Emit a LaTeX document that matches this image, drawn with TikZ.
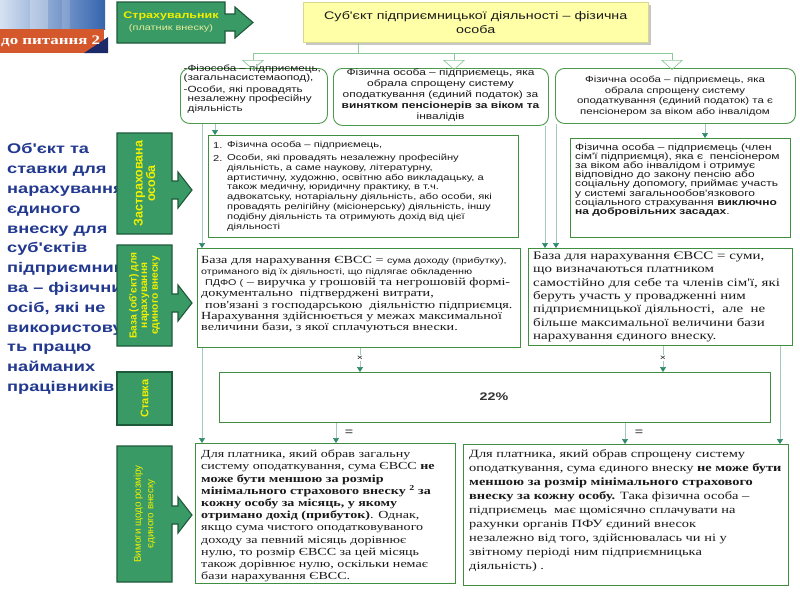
\documentclass[tikz,border=0pt]{standalone}
\usepackage{fontspec}
\setmainfont{Liberation Sans}
\newfontfamily\sw[FakeStretch=1.3]{Liberation Sans}
\newfontfamily\tw[FakeStretch=1.3]{Liberation Serif}
\usetikzlibrary{arrows.meta}
\definecolor{lblg}{HTML}{3A9A66}
\definecolor{lbld}{HTML}{1E5A3A}
\definecolor{boxg}{HTML}{3F8F3F}
\definecolor{rboxg}{HTML}{4C9A4C}
\definecolor{connc}{HTML}{A6C8B8}
\definecolor{tipc}{HTML}{2E8B6A}
\definecolor{holc}{HTML}{8CC99A}
\definecolor{ylw}{HTML}{F0F000}
\definecolor{ylwpale}{HTML}{E6EE9A}
\definecolor{yelbox}{HTML}{FFFFA8}
\definecolor{yelbord}{HTML}{D8D890}
\definecolor{txtblue}{HTML}{22398F}
\definecolor{txtc}{HTML}{1A1A1A}
\definecolor{bannerred}{HTML}{D4582C}
\definecolor{navy}{HTML}{1C2A6A}
\definecolor{bnl}{HTML}{D6E2F2}
\definecolor{bnr}{HTML}{3464AE}
\newcommand\fsz[2]{\fontsize{#1}{#2}\selectfont}
\begin{document}
\begin{tikzpicture}[x=1pt,y=-1pt,
  lblbox/.style={fill=lblg,draw=lbld,line width=1.1pt},
  cbox/.style={draw=boxg,line width=0.9pt,fill=white,inner sep=0pt,anchor=north west},
  rbox/.style={cbox,draw=rboxg,rounded corners=9pt},
  conn/.style={draw=connc,line width=0.6pt},
  conntip/.style={conn,-{Triangle[width=6pt,length=5pt,color=tipc]}},
  hollowarr/.style={draw=holc,line width=0.7pt,-{Triangle[open,width=22pt,length=10pt]}},
  btxt/.style={inner sep=0pt,text=txtc,align=left,anchor=west},
  ctxt/.style={inner sep=0pt,text=txtc,align=center},
  labtxt/.style={inner sep=0pt,rotate=90,text=ylw,align=center},
  signlbl/.style={inner sep=0.8pt,fill=white,text=txtc}
]
\useasboundingbox (0,0) rectangle (800,600);
\fill[white] (0,0) rectangle (800,600);

% ---------- banner ----------
\shade[left color=bnl,right color=bnr] (0,0) rectangle (105,29);
\fill[white,opacity=0.25] (30,0) rectangle (48,29);
\fill[white,opacity=0.15] (62,0) rectangle (70,29);
\fill[bannerred] (0,29) rectangle (104,53);
\fill[navy] (84,53) -- (108,53) -- (108,37) -- cycle;
\node[inner sep=0pt,anchor=west,text=white,font=\tw\bfseries\fsz{13}{13}] (ban) at (1,41.5) {до питання 2};

% ---------- left text ----------
\begin{scope}
\clip (0,130) rectangle (116.5,400);
\node[inner sep=0pt,anchor=west,align=left,text=txtblue,font=\sw\bfseries\fsz{14}{19.8}] (objtext) at (7,269)
{Об'єкт та\\ставки для\\нарахування\\єдиного\\внеску для\\суб'єктів\\підприємницт\\ва – фізичних\\осіб, які не\\використову\\ть працю\\найманих\\працівників};
\end{scope}

% ---------- header ----------
\draw[lblbox] (117,2) -- (225,2) -- (225,14) -- (235,14) -- (235,7) -- (253,22.5) -- (235,38) -- (235,31) -- (225,31) -- (225,43) -- (117,43) -- cycle;
\node[inner sep=0pt,align=center] (strakh) at (171,22.5)
{{\sw\bfseries\fsz{9.6}{11}\color{ylw}Страхувальник}\\{\sw\fsz{8.4}{10}\color{ylwpale}(платник внеску)}};

\fill[gray!45] (306,5) rectangle (651,45);
\node[cbox,fill=yelbox,draw=yelbord,line width=0.5pt,minimum width=345pt,minimum height=40pt] (subj) at (303,2) {};
\node[ctxt,font=\sw\fsz{11}{14}] (subjt) at (subj.center) {Суб'єкт підприємницької діяльності – фізична\\особа};

% ---------- category boxes ----------
\node[rbox,minimum width=147pt,minimum height=55pt] (f1) at (180,68) {};
\node[rbox,minimum width=215pt,minimum height=57pt] (f2) at (333,68) {};
\node[rbox,minimum width=240pt,minimum height=55pt] (f3) at (555,68) {};
\node[btxt,font=\sw\fsz{9}{8}] (f1t) at (183.5,89)
{-Фізособа – підприємець,\\(загальнасистемаопод),\\[2pt]-Особи, які провадять\\\hspace*{4pt}незалежну професійну\\\hspace*{4pt}діяльність};
\node[ctxt,font=\sw\fsz{9.2}{11}] (f2t) at (440.5,95)
{Фізична особа – підприємець, яка\\обрала спрощену систему\\оподаткування (єдиний податок) за\\{\bfseries винятком пенсіонерів за віком та}\\інвалідів};
\node[ctxt,font=\sw\fsz{8.8}{10.5}] (f3t) at (675,96)
{Фізична особа – підприємець, яка\\обрала спрощену систему\\оподаткування (єдиний податок) та є\\пенсіонером за віком або інвалідом};

\coordinate (hl) at (253,53);
\coordinate (hr) at (672,53);
\coordinate (hj) at (358,53);
\draw[conn,draw=holc] (hl) -- (hr);
\draw[conn,draw=holc] (358,0 |- subj.south) -- (hj);
\draw[hollowarr] (hl) -- ([yshift=-2pt]253,0 |- f1.north);
\draw[hollowarr] (454,53) -- ([yshift=-2pt]454,0 |- f2.north);
\draw[hollowarr] (hr) -- ([yshift=-2pt]672,0 |- f3.north);

% ---------- label arrows ----------
\draw[lblbox] (117,133) -- (172,133) -- (172,181) -- (178,181) -- (178,172) -- (192,190) -- (178,208) -- (178,199) -- (172,199) -- (172,234) -- (117,234) -- cycle;
\node[labtxt,font=\bfseries\fsz{12.5}{12.5}] (lz) at (144.5,183.5) {Застрахована\\особа};
\draw[lblbox] (117,245) -- (172,245) -- (172,294) -- (178,294) -- (178,285) -- (192,303) -- (178,321) -- (178,312) -- (172,312) -- (172,346) -- (117,346) -- cycle;
\node[labtxt,font=\bfseries\fsz{10.2}{10.6}] (lb) at (144.5,295.5) {База (об'єкт) для\\нарахування\\єдиного внеску};
\draw[lblbox] (117,372) rectangle (172,425);
\node[labtxt,font=\bfseries\fsz{11}{11}] (ls) at (144.5,398.5) {Ставка};
\draw[lblbox] (117,446) -- (172,446) -- (172,506) -- (178,506) -- (178,497) -- (192,515) -- (178,533) -- (178,524) -- (172,524) -- (172,582) -- (117,582) -- cycle;
\node[labtxt,font=\fsz{9.8}{12.5}] (lv) at (144.5,514) {Вимоги щодо розміру\\єдиного внеску};

% ---------- insured ----------
\node[cbox,minimum width=310pt,minimum height=102pt] (ins1) at (208,135) {};
\node[cbox,minimum width=220pt,minimum height=99pt] (ins2) at (570,138) {};
\node[btxt,font=\sw\fsz{8.6}{9.8}] (n1) at (213,145.5) {1.};
\node[btxt,font=\sw\fsz{8.6}{9.8}] (i1a) at (227,145.5) {Фізична особа – підприємець,};
\node[btxt,font=\sw\fsz{8.6}{9.8}] (n2) at (213,158) {2.};
\node[btxt,font=\sw\fsz{8.6}{9.8}] (i1b) at (227,192.5)
{Особи, які провадять незалежну професійну\\діяльність, а саме наукову, літературну,\\артистичну, художню, освітню або викладацьку, а\\також медичну, юридичну практику, в т.ч.\\адвокатську, нотаріальну діяльність, або особи, які\\провадять релігійну (місіонерську) діяльність, іншу\\подібну діяльність та отримують дохід від цієї\\діяльності};
\node[btxt,font=\sw\fsz{9.2}{9.15}] (i2t) at (575,180)
{Фізична особа – підприємець (член\\сім'ї підприємця), яка є\ \ пенсіонером\\за віком або інвалідом і отримує\\відповідно до закону пенсію або\\соціальну допомогу, приймає участь\\у системі загальнообов'язкового\\соціального страхування \textbf{виключно}\\\textbf{на добровільних засадах}.};

% ---------- base ----------
\node[cbox,minimum width=323pt,minimum height=99pt] (base1) at (197,248) {};
\node[cbox,minimum width=264pt,minimum height=97pt] (base2) at (528,248) {};
\node[btxt,font=\tw\fsz{10.9}{11.2}] (b1t) at (201,294.5)
{База для нарахування ЄВСС = {\sw\fsz{8.3}{11.2}сума доходу (прибутку),}\\
{\sw\fsz{8.3}{11.2}отриманого від їх діяльності, що підлягає обкладенню}\\
\hspace*{4pt}{\sw\fsz{8.3}{11.2}ПДФО (} – виручка у грошовій та негрошовій формі-\\
документально\ \ підтверджені витрати,\\
\hspace*{4pt}пов'язані з господарською\ \ діяльністю підприємця.\\
Нарахування здійснюється у межах максимальної\\
величини бази, з якої сплачуються внески.};
\node[btxt,font=\tw\fsz{11.5}{13.3}] (b2t) at (533,297)
{База для нарахування ЄВСС = суми,\\що визначаються платником\\самостійно для себе та членів сім'ї, які\\беруть участь у провадженні ним\\підприємницької діяльності,\ \ але\ \ не\\більше максимальної величини бази\\нарахування єдиного внеску.};

% ---------- rate ----------
\node[cbox,minimum width=551pt,minimum height=50pt] (rate) at (219,372) {};
\node[ctxt,font=\sw\bfseries\fsz{11}{11},text=black!80] (ratet) at (494,397) {22\%};

% ---------- requirements ----------
\node[cbox,minimum width=260pt,minimum height=140pt] (req1) at (195,443) {};
\node[cbox,minimum width=325pt,minimum height=141pt] (req2) at (463,444) {};
\node[btxt,font=\tw\fsz{10.8}{12.2}] (r1t) at (201,516)
{Для платника, який обрав загальну\\
систему оподаткування, сума ЄВСС \textbf{не}\\
\textbf{може бути меншою за розмір}\\
\textbf{мінімального страхового внеску \textsuperscript{2} за}\\
\textbf{кожну особу за місяць, у якому}\\
\textbf{отримано дохід (прибуток)}. Однак,\\
якщо сума чистого оподатковуваного\\
доходу за певний місяць дорівнює\\
нулю, то розмір ЄВСС за цей місяць\\
також дорівнює нулю, оскільки немає\\
бази нарахування ЄВСС.};
\node[btxt,font=\tw\fsz{11.1}{14}] (r2t) at (469,511)
{Для платника, який обрав спрощену систему\\
оподаткування, сума єдиного внеску \textbf{не може бути}\\
\textbf{меншою за розмір мінімального страхового}\\
\textbf{внеску за кожну особу.} Така фізична особа –\\
підприємець\ \ має щомісячно сплачувати на\\
рахунки органів ПФУ єдиний внесок\\
незалежно від того, здійснювалась чи ні у\\
звітному періоді ним підприємницька\\
діяльність) .};

% ---------- connectors ----------
\draw[conntip] (215,0 |- f1.south) -- (215,0 |- ins1.north);
\draw[conntip] (202,0 |- f1.south) -- (202,0 |- base1.north);
\draw[conntip] (545,0 |- f2.south) -- (545,0 |- base2.north);
\draw[conntip] (556,0 |- f3.south) -- (556,0 |- base2.north);
\draw[conntip] (705,0 |- f3.south) -- (705,0 |- ins2.north);
\draw[conntip] (360,0 |- base1.south) -- (360,0 |- rate.north);
\draw[conntip] (663,0 |- base2.south) -- (663,0 |- rate.north);
\draw[conntip] (336,0 |- rate.south) -- (336,0 |- req1.north);
\draw[conntip] (625,0 |- rate.south) -- (625,0 |- req2.north);
\draw[conntip] (202,0 |- base1.south) -- (202,0 |- req1.north);
\draw[conntip] (780,0 |- base2.south) -- (780,0 |- req2.north);
\node[signlbl,font=\sw\fsz{8}{8}] (x1) at (360,358) {×};
\node[signlbl,font=\sw\fsz{8}{8}] (x2) at (663,358) {×};
\node[inner sep=0pt,font=\sw\fsz{11}{11},text=txtc] (e1) at (349,433) {=};
\node[inner sep=0pt,font=\sw\fsz{11}{11},text=txtc] (e2) at (639,433) {=};
\end{tikzpicture}
\end{document}
